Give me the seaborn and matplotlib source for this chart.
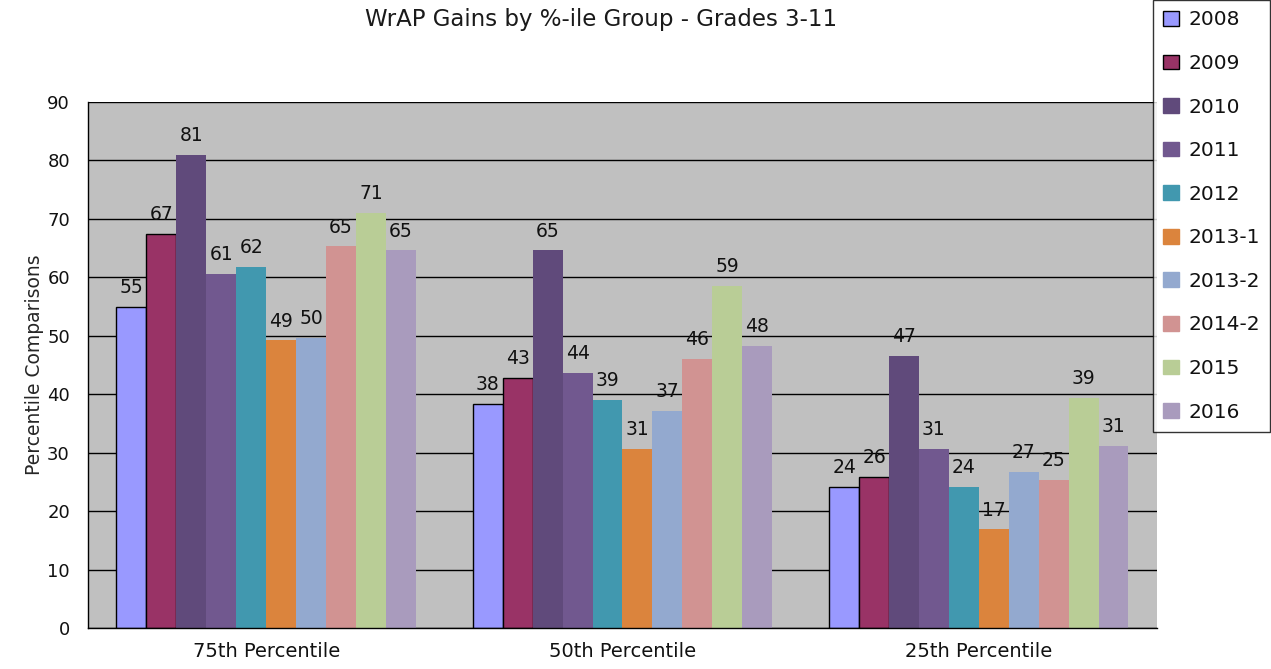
import numpy as np
import pandas as pd
import matplotlib
matplotlib.use('Agg')
import matplotlib.pyplot as plt
import seaborn as sns

groups = ['75th Percentile', '50th Percentile', '25th Percentile']
years = ['2008', '2009', '2010', '2011', '2012', '2013-1', '2013-2', '2014-2', '2015', '2016']

# one list per percentile group, in year order
p75 = [55, 67.4, 81, 60.6, 61.8, 49.2, 49.6, 65.3, 71, 64.6]
p50 = [38.4, 42.8, 64.6, 43.7, 39, 30.7, 37.1, 46, 58.6, 48.3]
p25 = [24.1, 25.8, 46.6, 30.6, 24.1, 16.9, 26.7, 25.3, 39.4, 31.2]

colors = ['#9999FF', '#993366', '#604A7B', '#71588F', '#4198AF',
          '#DB843D', '#93A9CF', '#D19392', '#B9CD96', '#A99BBD']

rows = []
for g, vals in zip(groups, [p75, p50, p25]):
    for y, v in zip(years, vals):
        rows.append({'group': g, 'year': y, 'value': v})
df = pd.DataFrame(rows)

sns.set_style('white')
plt.rcParams['font.family'] = ['DejaVu Sans']
plt.rcParams['text.color'] = '#111111'
plt.rcParams['xtick.color'] = '#111111'
plt.rcParams['ytick.color'] = '#111111'

fig = plt.figure(figsize=(12.71, 6.69), dpi=100)
ax = fig.add_axes([0.0692, 0.0613, 0.8411, 0.7862])
ax.set_facecolor('#C0C0C0')

sns.barplot(data=df, x='group', y='value', hue='year', order=groups,
            hue_order=years, palette=dict(zip(years, colors)),
            width=0.84, gap=0, saturation=1, ax=ax, legend=False)

for i, cont in enumerate(ax.containers):
    for p in cont:
        if i < 2:
            p.set_edgecolor('black')
            p.set_linewidth(1)
        else:
            p.set_linewidth(0)
    ax.bar_label(cont, labels=[f'{h:.0f}' for h in cont.datavalues],
                 padding=7, fontsize=13.5, color='#111111')

ax.set_ylim(0, 90)
ax.set_xlim(-0.5, 2.5)
ax.set_yticks(np.arange(0, 91, 10))
ax.yaxis.grid(True, color='black', linewidth=1)
ax.set_axisbelow(True)
for s in ['top', 'right']:
    ax.spines[s].set_visible(False)
for s in ['left', 'bottom']:
    ax.spines[s].set_color('black')
    ax.spines[s].set_linewidth(1)

ax.tick_params(axis='y', direction='inout', length=14, width=1, labelsize=13, pad=6)
ax.tick_params(axis='x', which='major', length=0, labelsize=14, pad=10)
ax.set_xticks([-0.5, 0.5, 1.5, 2.5], minor=True)
ax.tick_params(axis='x', which='minor', direction='out', length=6, width=1)

ax.set_xlabel('')
ax.set_ylabel('Percentile Comparisons', fontsize=13.5, labelpad=2)
fig.suptitle('WrAP Gains by %-ile Group - Grades 3-11', x=0.473, y=0.988,
             fontsize=16.5, color='#1a1a1a')

handles = [plt.Rectangle((0, 0), 1, 1, facecolor=c,
                         edgecolor='black' if i < 2 else c, linewidth=1)
           for i, c in enumerate(colors)]
leg = fig.legend(handles, years, loc='upper right', bbox_to_anchor=(0.9995, 0.9995),
                 fontsize=14.5, frameon=True, fancybox=False, labelspacing=1.22,
                 handlelength=0.75, handleheight=0.75, handletextpad=0.5,
                 borderpad=0.5, borderaxespad=0)
leg.get_frame().set_edgecolor('black')
leg.get_frame().set_linewidth(1)

fig.savefig('out.png', dpi=100)
